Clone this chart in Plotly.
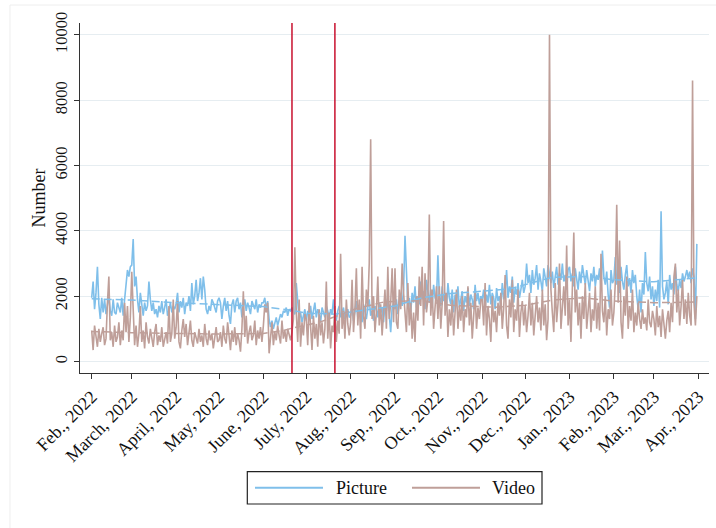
import pandas as pd
import plotly.graph_objects as go

# Daily counts, 1 Feb 2022 - 31 Mar 2023 (one row per month)
picture = [
    1950, 2450, 1600, 2100, 2900, 1750, 1300, 1950, 1500, 1900, 1450, 1800, 2000, 1550, 1400, 1900, 1500, 1450, 1800, 1650, 1500, 1950, 1400, 1900, 2300, 2800, 2600, 2900,  # Feb 2022
    2950, 3750, 2300, 2600, 1900, 1500, 2100, 1650, 1400, 1800, 1550, 1700, 2450, 1900, 1550, 1800, 1450, 1600, 1350, 1700, 1500, 1850, 1450, 1650, 1900, 1400, 1550, 1800, 1500, 1700, 1600,  # Mar 2022
    1750, 2100, 1500, 1850, 1650, 1950, 1450, 1800, 1700, 2000, 1550, 2400, 1750, 2000, 2500, 1850, 2100, 2550, 1900, 2600, 2200, 1600, 1450, 1700, 1550, 1900, 1800, 1650, 1500, 1850,  # Apr 2022
    1950, 1800, 1300, 1700, 1950, 1550, 1850, 1400, 1150, 1750, 1900, 1500, 1850, 1950, 1600, 1800, 1350, 1700, 1900, 1550, 1800, 1650, 1450, 1850, 1700, 1600, 1900, 1500, 1750, 1650, 1800,  # May 2022
    1800, 1950, 1600, 1850, 1300, 1050, 1250, 1000, 1150, 1350, 1100, 1250, 1450, 1350, 1550, 1500, 1650, 1400, 1600, 1550, 1650, 1500, 1450, 2400, 1700, 1300, 1500, 1200, 1400, 1600,  # Jun 2022
    1250, 1550, 1400, 1700, 1300, 1500, 1800, 1350, 1600, 1450, 1200, 1650, 1500, 1350, 1700, 1550, 1300, 1600, 1450, 1900, 1400, 1250, 1550, 1700, 1350, 1500, 1650, 1300, 1450, 1600, 1350,  # Jul 2022
    1400, 1700, 1250, 1550, 1850, 1350, 1600, 1450, 1200, 1750, 1500, 1300, 1650, 1900, 1400, 1550, 1250, 1700, 1600, 1350, 1800, 1500, 1650, 1200, 1750, 1550, 1950, 1400, 900, 1650, 1800,  # Aug 2022
    1600, 1900, 1450, 1800, 2050, 1700, 2200, 3850, 2400, 1700, 1950, 1500, 2100, 1800, 2300, 1650, 2000, 1750, 2450, 1900, 2150, 1600, 2500, 2050, 1800, 2200, 1700, 2350, 1950, 1850,  # Sep 2022
    3250, 2000, 1700, 2300, 1850, 2100, 1600, 2400, 1950, 1750, 2200, 1500, 2050, 1800, 2300, 1650, 1900, 2150, 1550, 2000, 1800, 2250, 1700, 2050, 1900, 1600, 2350, 1850, 2100, 1750, 2000,  # Oct 2022
    1900, 2200, 1650, 2050, 1800, 2350, 1750, 2100, 1950, 1600, 2250, 1850, 2000, 1700, 2400, 1900, 2150, 2800, 1950, 2300, 2100, 2600, 1800, 2250, 2050, 2400, 1950, 2200, 2500, 2100,  # Nov 2022
    2300, 3000, 2400, 2650, 2100, 2800, 2350, 2550, 2950, 2200, 2700, 2450, 2150, 2850, 2500, 2300, 2950, 2600, 2400, 2750, 2250, 2600, 2900, 2350, 2700, 2500, 3000, 2450, 2650, 2200, 2800,  # Dec 2022
    2900, 2450, 2700, 2300, 2850, 2550, 2200, 2750, 2400, 2950, 2600, 2350, 2800, 2500, 2150, 2700, 2450, 2900, 2300, 2650, 2500, 2850, 2250, 3400, 2600, 2350, 2750, 2050, 1650, 2800, 2400,  # Jan 2023
    2500, 3200, 2350, 2750, 2100, 2900, 2450, 2200, 2650, 2950, 2300, 2550, 2100, 2800, 2400, 2650, 2000, 1600, 2200, 1500, 2400, 2050, 3350, 2400, 2150, 2600, 1900, 2300,  # Feb 2023
    1700, 2200, 1850, 2500, 1650, 4600, 2300, 1900, 2100, 2450, 1750, 2650, 2200, 2400, 2050, 2900, 2350, 2150, 2500, 2250, 2700, 2450, 2600, 2800, 2550, 2750, 2400, 2850, 2600, 1300, 3600,  # Mar 2023
]

video = [
    950, 350, 1100, 800, 450, 1000, 600, 850, 1050, 500, 700, 1800, 2600, 650, 900, 450, 1100, 600, 750, 1200, 500, 950, 650, 1800, 900, 1700, 600, 1350,  # Feb 2022
    2750, 1600, 500, 1100, 450, 850, 1700, 600, 950, 400, 1200, 750, 550, 1000, 650, 450, 900, 1150, 500, 800, 600, 1050, 450, 700, 900, 550, 1700, 600, 850, 1900, 700,  # Mar 2022
    1050, 1850, 600, 400, 950, 1300, 750, 1150, 500, 850, 1250, 650, 450, 900, 700, 550, 1000, 600, 800, 450, 1150, 700, 500, 950, 650, 850, 400, 750, 1050, 600,  # Apr 2022
    650, 900, 450, 1100, 700, 550, 1200, 800, 350, 950, 600, 1050, 500, 850, 650, 300, 1000, 2150, 750, 1400, 550, 900, 1100, 650, 800, 1250, 500, 950, 700, 1050, 600,  # May 2022
    1100, 1750, 1500, 1800, 250, 700, 1200, 500, 900, 650, 1100, 800, 550, 1250, 700, 950, 600, 1000, 800, 650, 900, 1300, 3500, 1500, 600, 1900, 450, 1200, 800, 1450,  # Jun 2022
    1300, 500, 1800, 900, 350, 1400, 700, 1150, 450, 1600, 800, 1200, 550, 1000, 2450, 700, 1500, 400, 1100, 900, 1700, 600, 1250, 850, 3300, 1000, 1550, 700, 1900, 1150, 800,  # Jul 2022
    1200, 2500, 900, 1600, 2850, 1100, 1900, 700, 2900, 1400, 1000, 2200, 1700, 3000, 6800, 1300, 2000, 900, 1500, 2600, 1100, 1750, 800, 1400, 2200, 1000, 2900, 1300, 1800, 2850, 1200,  # Aug 2022
    2850, 1200, 1000, 2200, 1600, 3000, 2100, 1300, 900, 2400, 1100, 1800, 700, 1500, 600, 2000, 1250, 2600, 1700, 2900, 1100, 2700, 1500, 1900, 4500, 1400, 2200, 1000, 1650, 2300,  # Sep 2022
    1300, 2300, 1000, 1800, 4300, 1400, 2100, 750, 1600, 1100, 1900, 800, 1500, 2200, 1000, 1700, 1250, 2000, 900, 1600, 1350, 2300, 1100, 1800, 700, 1500, 2100, 1000, 1650, 1300, 1900,  # Oct 2022
    1900, 1100, 2400, 800, 1700, 1300, 600, 2000, 1200, 1550, 900, 1800, 1400, 2100, 1000, 1650, 2650, 1100, 700, 1900, 1350, 2500, 900, 1600, 1250, 2200, 750, 1500, 1850, 1100,  # Nov 2022
    1700, 900, 1400, 2100, 1100, 1800, 800, 1500, 2000, 1200, 1650, 950, 2200, 1100, 1750, 650, 1300, 10000, 2200, 1500, 900, 2400, 1200, 1800, 3000, 1000, 1600, 2300, 1400, 3550, 1100,  # Dec 2022
    1900, 600, 2600, 3950, 1500, 2200, 1100, 1800, 700, 2000, 1300, 2400, 1000, 1700, 2100, 900, 1600, 1250, 2300, 1000, 1800, 950, 3300, 1550, 1200, 2000, 800, 1600, 1300, 2200, 1100,  # Jan 2023
    1500, 2400, 4800, 1800, 3700, 1200, 700, 2000, 1400, 2600, 1000, 1700, 1250, 2200, 900, 1500, 1100, 1800, 1300, 1000, 1600, 1150, 1350, 950, 1900, 1200, 1050, 1550,  # Feb 2023
    1300, 800, 1700, 1050, 1400, 750, 1600, 1000, 700, 1250, 1550, 900, 1800, 1200, 2600, 3000, 1500, 2200, 1100, 1700, 2500, 1300, 1900, 1150, 2100, 1400, 1100, 8600, 1800, 1100, 2000,  # Mar 2023
]

# Smoothed trend of each series
picture_trend_dates = ["2022-02-01", "2022-03-01", "2022-04-01", "2022-05-01", "2022-06-01", "2022-06-20",
                       "2022-07-01", "2022-07-21", "2022-08-10", "2022-09-01", "2022-09-20", "2022-10-10",
                       "2022-11-01", "2022-11-20", "2022-12-05", "2022-12-20", "2023-01-15", "2023-02-01",
                       "2023-03-01", "2023-03-31"]
picture_trend = [1920, 1880, 1800, 1730, 1680, 1570, 1480, 1450, 1580, 1700, 1950, 2080,
                 2150, 2220, 2400, 2580, 2600, 2500, 2440, 2560]

video_trend_dates = ["2022-02-01", "2022-03-01", "2022-04-01", "2022-05-01", "2022-06-01", "2022-06-15",
                     "2022-06-21", "2022-07-10", "2022-07-21", "2022-08-05", "2022-08-25", "2022-09-20",
                     "2022-10-10", "2022-11-10", "2022-12-01", "2022-12-20", "2023-01-10", "2023-02-01",
                     "2023-03-01", "2023-03-31"]
video_trend = [920, 880, 860, 840, 860, 950, 1020, 1200, 1370, 1620, 1830, 1860,
               1720, 1660, 1720, 1880, 1950, 1850, 1800, 1820]

# Event markers
event_dates = ["2022-06-21", "2022-07-21"]

month_ticks = pd.date_range("2022-02-01", "2023-04-01", freq="MS")
month_labels = ["Feb., 2022", "March, 2022", "April, 2022", "May, 2022", "June, 2022", "July, 2022",
                "Aug., 2022", "Sep., 2022", "Oct., 2022", "Nov., 2022", "Dec., 2022", "Jan., 2023",
                "Feb., 2023", "Mar., 2023", "Apr., 2023"]
y_ticks = [0, 2000, 4000, 6000, 8000, 10000]

dates = pd.date_range("2022-02-01", periods=len(picture), freq="D")

BLUE = "#7fbfea"
BROWN = "#bf9f99"
RED = "#c8102e"
FONT = "Liberation Serif"

fig = go.Figure()
fig.add_trace(go.Scatter(x=dates, y=picture, mode="lines", name="Picture",
                         line=dict(color=BLUE, width=1.6), showlegend=False))
fig.add_trace(go.Scatter(x=dates, y=video, mode="lines", name="Video",
                         line=dict(color=BROWN, width=1.6), showlegend=False))
fig.add_trace(go.Scatter(x=pd.to_datetime(picture_trend_dates), y=picture_trend, mode="lines",
                         line=dict(color=BLUE, width=1.5, dash="8px,4px"), showlegend=False))
fig.add_trace(go.Scatter(x=pd.to_datetime(video_trend_dates), y=video_trend, mode="lines",
                         line=dict(color=BROWN, width=1.5, dash="8px,4px"), showlegend=False))

for d in event_dates:
    fig.add_shape(type="line", xref="x", yref="paper", x0=d, x1=d, y0=0, y1=1,
                  line=dict(color=RED, width=1.5), layer="above")

# Faint outer frame
fig.add_shape(type="line", xref="paper", yref="paper", x0=-0.1113, x1=-0.1113, y0=-0.45, y1=1.0514,
              line=dict(color="#eeeeee", width=1))
fig.add_shape(type="line", xref="paper", yref="paper", x0=-0.1113, x1=1.02, y0=1.0514, y1=1.0514,
              line=dict(color="#eeeeee", width=1))

# Legend box
fig.add_shape(type="rect", xref="paper", yref="paper", x0=0.266, x1=0.7345, y0=-0.3743, y1=-0.282,
              line=dict(color="#222222", width=1.2), fillcolor="white")
fig.add_shape(type="line", xref="paper", yref="paper", x0=0.2782, x1=0.3863, y0=-0.3277, y1=-0.3277,
              line=dict(color=BLUE, width=2))
fig.add_shape(type="line", xref="paper", yref="paper", x0=0.5278, x1=0.6359, y0=-0.3277, y1=-0.3277,
              line=dict(color=BROWN, width=2))
fig.add_annotation(xref="paper", yref="paper", x=0.4038, y=-0.3277, text="Picture", showarrow=False,
                   xanchor="left", yanchor="middle", font=dict(family=FONT, size=18, color="#111111"))
fig.add_annotation(xref="paper", yref="paper", x=0.6518, y=-0.3277, text="Video", showarrow=False,
                   xanchor="left", yanchor="middle", font=dict(family=FONT, size=18, color="#111111"))

fig.update_layout(
    width=716, height=528,
    margin=dict(l=80, r=7, t=23, b=155),
    paper_bgcolor="white", plot_bgcolor="white",
    font=dict(family=FONT, color="#111111"),
    xaxis=dict(
        range=["2022-01-23 19:40", "2023-04-08 12:00"],
        tickmode="array", tickvals=month_ticks, ticktext=month_labels,
        tickangle=-45, tickfont=dict(size=18),
        showline=True, linecolor="#333333", linewidth=1.2,
        ticks="outside", ticklen=5, tickcolor="#333333", tickwidth=1.2,
        showgrid=False, zeroline=False,
    ),
    yaxis=dict(
        range=[-352, 10361],
        tickmode="array", tickvals=y_ticks, ticktext=[str(v) for v in y_ticks],
        tickangle=-90, tickfont=dict(size=16.5),
        showline=True, linecolor="#333333", linewidth=1.2,
        ticks="outside", ticklen=5, tickcolor="#333333", tickwidth=1.2,
        showgrid=True, gridcolor="#e6edf1", gridwidth=1.2, zeroline=False,
        title=dict(text="Number", font=dict(size=18), standoff=1),
    ),
)

fig.write_html("out.html")
